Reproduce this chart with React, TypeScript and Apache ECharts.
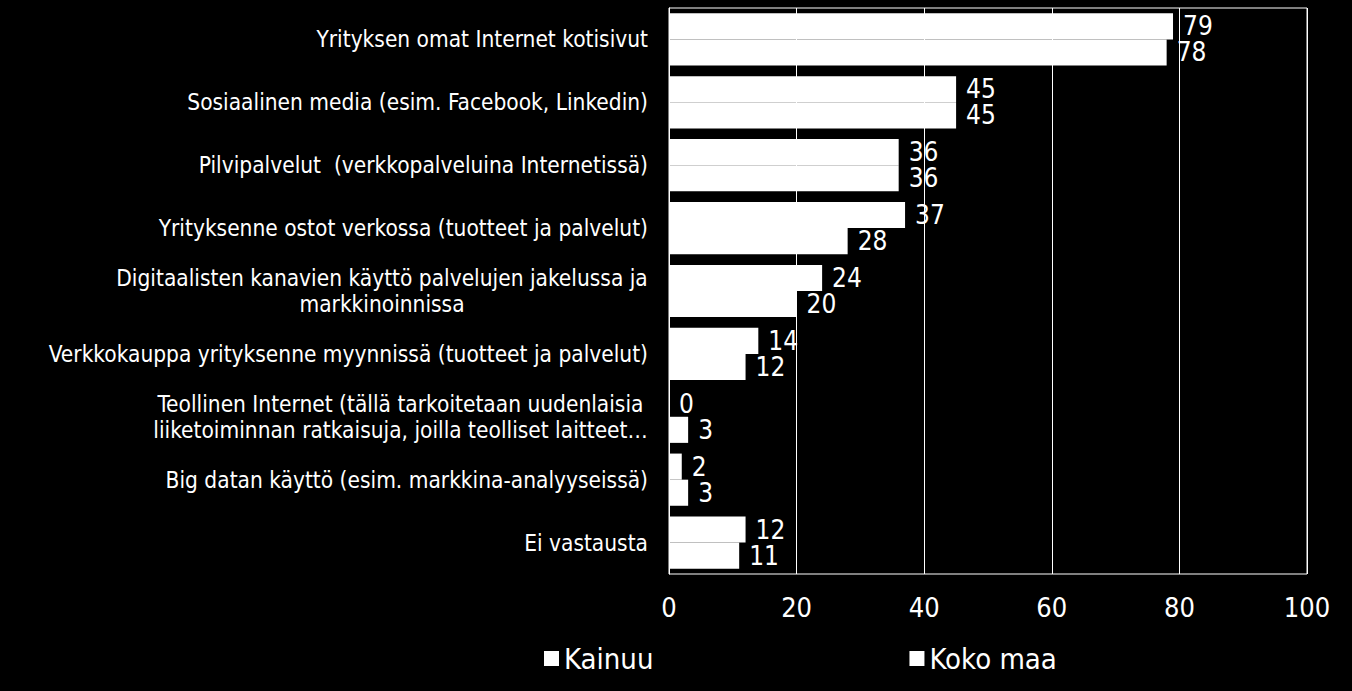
import React, { useEffect, useRef } from "react";
import * as echarts from "echarts";

const categories: string[] = [
  "Yrityksen omat Internet kotisivut",
  "Sosiaalinen media (esim. Facebook, Linkedin)",
  "Pilvipalvelut  (verkkopalveluina Internetissä)",
  "Yrityksenne ostot verkossa (tuotteet ja palvelut)",
  "Digitaalisten kanavien käyttö palvelujen jakelussa ja\nmarkkinoinnissa",
  "Verkkokauppa yrityksenne myynnissä (tuotteet ja palvelut)",
  "Teollinen Internet (tällä tarkoitetaan uudenlaisia\nliiketoiminnan ratkaisuja, joilla teolliset laitteet…",
  "Big datan käyttö (esim. markkina-analyyseissä)",
  "Ei vastausta",
];
const kainuu: number[] = [79, 45, 36, 37, 24, 14, 0, 2, 12];
const kokoMaa: number[] = [78, 45, 36, 28, 20, 12, 3, 3, 11];
const seriesNames: string[] = ["Kainuu", "Koko maa"];
const xTicks: number[] = [0, 20, 40, 60, 80, 100];

const FONT = "'DejaVu Sans Condensed', 'DejaVu Sans', sans-serif";
const CAT_SIZE = 22.5;

function measure(text: string, size: number): number {
  const c = document.createElement("canvas");
  const ctx = c.getContext("2d");
  if (!ctx) return text.length * size * 0.55;
  ctx.font = `${size}px ${FONT}`;
  return ctx.measureText(text).width;
}

export default function App() {
  const ref = useRef<HTMLDivElement>(null);
  useEffect(() => {
    if (!ref.current) return;
    const chart = echarts.init(ref.current, undefined, { renderer: "svg" });

    const rich: Record<string, any> = {};
    const labelText: Record<string, string> = {};
    categories.forEach((cat, i) => {
      const lines = cat.split("\n");
      if (lines.length > 1) {
        const w = Math.ceil(Math.max(...lines.map((l) => measure(l, CAT_SIZE))));
        rich["c" + i] = {
          width: w,
          align: "center",
          color: "#ffffff",
          fontSize: CAT_SIZE,
          fontFamily: FONT,
          lineHeight: 26,
        };
        labelText[cat] = lines.map((l) => `{c${i}|${l}}`).join("\n");
      } else {
        labelText[cat] = cat;
      }
    });

    const valueLabel = {
      show: true,
      position: "right",
      distance: 10,
      color: "#ffffff",
      fontSize: 26,
      lineHeight: 24,
      fontFamily: FONT,
    };

    chart.setOption({
      animation: false,
      backgroundColor: "#000000",
      grid: {
        left: 669,
        right: 45,
        top: 8,
        bottom: 117,
        show: true,
        borderColor: "#ffffff",
        borderWidth: 1,
        backgroundColor: "transparent",
      },
      legend: {
        show: true,
        left: 539,
        top: 639,
        itemWidth: 15,
        itemHeight: 15,
        itemGap: 256,
        icon: "rect",
        textStyle: { color: "#ffffff", fontSize: 29, fontFamily: FONT },
        data: seriesNames,
      },
      xAxis: {
        type: "value",
        min: xTicks[0],
        max: xTicks[xTicks.length - 1],
        interval: 20,
        axisLine: { show: false },
        axisTick: { show: false },
        splitLine: { show: true, lineStyle: { color: "#ffffff", width: 1 } },
        axisLabel: {
          color: "#ffffff",
          fontSize: 27,
          fontFamily: FONT,
          margin: 20,
        },
      },
      yAxis: {
        type: "category",
        inverse: true,
        data: categories,
        axisLine: { show: true, lineStyle: { color: "#ffffff", width: 1 } },
        axisTick: { show: false },
        axisLabel: {
          color: "#ffffff",
          fontSize: CAT_SIZE,
          fontFamily: FONT,
          margin: 21,
          lineHeight: 26,
          interval: 0,
          formatter: (v: string) => labelText[v] ?? v,
          rich,
        },
      },
      series: [
        {
          name: seriesNames[0],
          type: "bar",
          data: kainuu,
          barGap: "0%",
          barCategoryGap: "17%",
          itemStyle: { color: "#ffffff" },
          label: valueLabel,
        },
        {
          name: seriesNames[1],
          type: "bar",
          data: kokoMaa,
          barGap: "0%",
          barCategoryGap: "17%",
          itemStyle: { color: "#ffffff" },
          label: valueLabel,
        },
      ],
    });
    return () => chart.dispose();
  }, []);
  return (
    <div
      ref={ref}
      style={{ position: "fixed", left: 0, top: 0, width: 1352, height: 691, background: "#000" }}
    />
  );
}
